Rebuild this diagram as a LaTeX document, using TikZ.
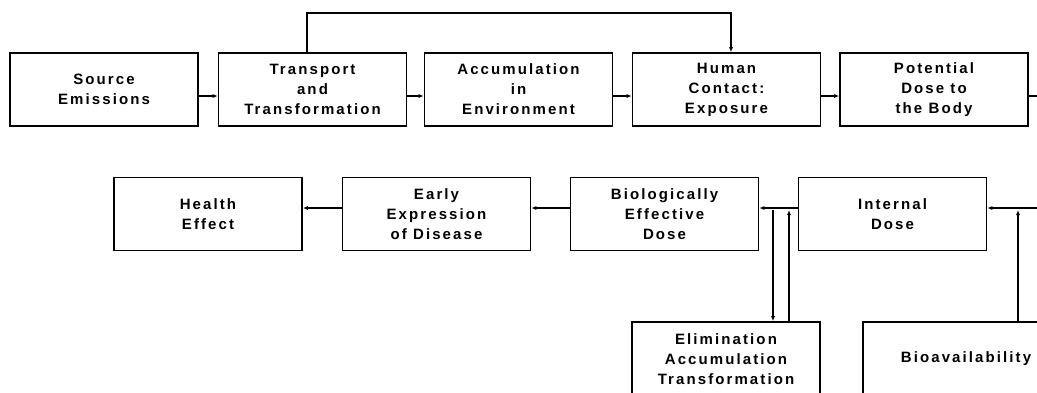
\documentclass[tikz,border=0pt]{standalone}
\usepackage{fontspec}
\setmainfont{Liberation Sans}[LetterSpace=14]
\usetikzlibrary{arrows.meta}
\begin{document}
\begin{tikzpicture}[x=1pt,y=-1pt,
  box/.style={draw, line width=1.6pt, rectangle, minimum width=188pt, minimum height=73pt,
    align=center, inner sep=0pt, font=\fontsize{15}{20}\selectfont\bfseries},
  conn/.style={line width=2pt, -{Latex[length=5pt,width=4pt]}},
  plain/.style={line width=2pt}]
\useasboundingbox (0,0) rectangle (1037,392);
\clip (0,0) rectangle (1037,392);
% top row
\node[box] (src) at (104,89.5) {Source\\Emissions};
\node[box] (trn) at (312.5,89.5) {Transport\\and\\Transformation};
\node[box] (acc) at (518.5,89.5) {Accumulation\\in\\Environment};
\node[box] (hum) at (726.5,89.5) {Human\\Contact:\\Exposure};
\node[box] (pot) at (934,89.5) {Potential\\Dose to\\the Body};
% second row
\node[box] (hea) at (208,214) {Health\\Effect};
\node[box] (ear) at (436.5,214) {Early\\Expression\\of Disease};
\node[box] (bed) at (664.5,214) {Biologically\\Effective\\Dose};
\node[box] (int) at (892.5,214) {Internal\\Dose};
% bottom row
\node[box, minimum height=74pt] (eli) at (726,359) {Elimination\\Accumulation\\Transformation};
\node[box, minimum width=206pt, minimum height=74pt] (bio) at (966,359) {Bioavailability};
% coordinates
\coordinate (potout) at (1045,96);
\coordinate (intin) at (1045,208);
\coordinate (up1) at (307,13);
\coordinate (up2) at (731,13);
\coordinate (j1) at (773,210);
\coordinate (j2) at (789,210);
\coordinate (j3) at (1018,210);
% top row connectors
\draw[conn] (src.east |- 0,96) -- (trn.west |- 0,96);
\draw[conn] (trn.east |- 0,96) -- (acc.west |- 0,96);
\draw[conn] (acc.east |- 0,96) -- (hum.west |- 0,96);
\draw[conn] (hum.east |- 0,96) -- (pot.west |- 0,96);
\draw[plain] (pot.east |- 0,96) -- (potout);
\draw[conn] (trn.north -| up1) -- (up1) -- (up2) -- (hum.north -| up2);
% second row connectors
\draw[conn] (intin) -- (int.east |- 0,208);
\draw[conn] (int.west |- 0,208) -- (bed.east |- 0,208);
\draw[conn] (bed.west |- 0,208) -- (ear.east |- 0,208);
\draw[conn] (ear.west |- 0,208) -- (hea.east |- 0,208);
% verticals
\draw[conn] (j1) -- (eli.north -| j1);
\draw[conn] (eli.north -| j2) -- (j2);
\draw[conn] (bio.north -| j3) -- (j3);
\end{tikzpicture}
\end{document}
